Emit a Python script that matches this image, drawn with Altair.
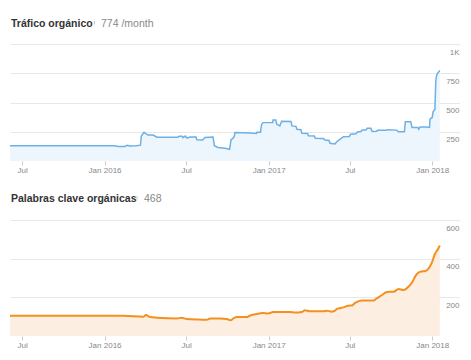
import altair as alt
import pandas as pd

# ---------------- data ----------------
traffic_dates = [
    "2015-06-04", "2016-01-24", "2016-01-31", "2016-02-15", "2016-02-20", "2016-02-27",
    "2016-03-13", "2016-03-21", "2016-03-23", "2016-03-29", "2016-04-02", "2016-04-07",
    "2016-04-18", "2016-04-27", "2016-06-13", "2016-06-15", "2016-06-22", "2016-06-24",
    "2016-06-29", "2016-07-03", "2016-07-10", "2016-07-23", "2016-07-25", "2016-08-07",
    "2016-08-12", "2016-08-30", "2016-09-02", "2016-09-10", "2016-09-26", "2016-10-06",
    "2016-10-09", "2016-10-16", "2016-10-18", "2016-11-20", "2016-12-05", "2016-12-06",
    "2016-12-14", "2016-12-16", "2016-12-19", "2017-01-10", "2017-01-11", "2017-01-17",
    "2017-01-19", "2017-01-26", "2017-01-30", "2017-02-20", "2017-02-22", "2017-03-03",
    "2017-03-05", "2017-03-14", "2017-03-16", "2017-03-29", "2017-03-31", "2017-04-13",
    "2017-04-15", "2017-05-03", "2017-05-07", "2017-05-16", "2017-05-18", "2017-05-29",
    "2017-06-02", "2017-06-09", "2017-06-17", "2017-06-30", "2017-07-03", "2017-07-15",
    "2017-07-18", "2017-07-26", "2017-07-29", "2017-08-06", "2017-08-09", "2017-08-17",
    "2017-08-20", "2017-08-30", "2017-09-01", "2017-09-21", "2017-09-24", "2017-10-14",
    "2017-10-17", "2017-10-31", "2017-11-02", "2017-11-14", "2017-11-17", "2017-11-30",
    "2017-12-02", "2017-12-05", "2017-12-18", "2017-12-26", "2017-12-27", "2018-01-01",
    "2018-01-03", "2018-01-07", "2018-01-09", "2018-01-11", "2018-01-14", "2018-01-18",
]
traffic_values = [
    130, 130, 124, 123, 134, 128,
    131, 135, 214, 245, 235, 222,
    222, 203, 203, 212, 212, 200,
    213, 196, 205, 205, 182, 180,
    200, 205, 130, 115, 108, 100,
    180, 205, 243, 240, 236, 246,
    246, 308, 328, 330, 350, 350,
    316, 300, 339, 338, 300, 296,
    271, 268, 238, 236, 216, 214,
    194, 192, 180, 175, 151, 145,
    165, 185, 208, 210, 228, 232,
    248, 252, 265, 265, 279, 280,
    253, 255, 262, 262, 268, 264,
    251, 250, 336, 336, 287, 286,
    272, 291, 290, 287, 358, 372,
    421, 442, 684, 735, 755, 774,
]

keyword_dates = [
    "2015-06-04", "2016-02-12", "2016-03-28", "2016-04-02", "2016-04-12", "2016-04-27",
    "2016-06-10", "2016-06-21", "2016-07-02", "2016-08-01", "2016-08-16", "2016-08-24",
    "2016-09-15", "2016-09-30", "2016-10-08", "2016-10-15", "2016-10-23", "2016-11-13",
    "2016-11-20", "2016-12-02", "2016-12-20", "2016-12-31", "2017-01-11", "2017-02-18",
    "2017-03-01", "2017-03-16", "2017-03-23", "2017-04-03", "2017-05-03", "2017-05-11",
    "2017-05-22", "2017-05-29", "2017-06-02", "2017-06-17", "2017-06-28", "2017-07-06",
    "2017-07-13", "2017-07-28", "2017-08-23", "2017-08-30", "2017-09-11", "2017-09-22",
    "2017-10-07", "2017-10-18", "2017-10-29", "2017-11-10", "2017-11-18", "2017-11-25",
    "2017-12-02", "2017-12-09", "2017-12-17", "2017-12-24", "2017-12-31", "2018-01-07",
    "2018-01-14", "2018-01-18",
]
keyword_values = [
    105, 105, 100, 108, 98, 95,
    91, 94, 88, 85, 84, 91,
    91, 88, 81, 92, 98, 98,
    105, 112, 119, 117, 124, 124,
    121, 124, 133, 128, 128, 131,
    126, 131, 140, 148, 157, 158,
    171, 184, 184, 195, 212, 228,
    229, 243, 238, 257, 281, 312,
    329, 334, 336, 350, 378, 424,
    450, 468,
]

traffic_title = "Tráfico orgánico"
traffic_value_text = "774 /month"
keyword_title = "Palabras clave orgánicas"
keyword_value_text = "468"

traffic_ticks = [250, 500, 750, 1000]
keyword_ticks = [200, 400, 600]

FONT = "Liberation Sans"

x_tick_values = [
    alt.DateTime(year=2015, month=7, date=1),
    alt.DateTime(year=2016, month=1, date=1),
    alt.DateTime(year=2016, month=7, date=1),
    alt.DateTime(year=2017, month=1, date=1),
    alt.DateTime(year=2017, month=7, date=1),
    alt.DateTime(year=2018, month=1, date=1),
]
x_domain = [alt.DateTime(year=2015, month=6, date=4), alt.DateTime(year=2018, month=3, date=4)]

W = 450


def panel(dates, values, ticks, ymax, h, line_color, fill_color, interp, stroke_w,
          title, value_text, title_y, marker_x, value_x):
    df = pd.DataFrame({"date": dates, "value": values})
    x = alt.X(
        "date:T",
        scale=alt.Scale(domain=x_domain),
        axis=alt.Axis(
            title=None, values=x_tick_values, grid=False, domain=False,
            tickColor="#cccccc", tickSize=4, labelPadding=1,
            labelFontSize=8, labelColor="#888888", labelFont=FONT, labelFlush=False,
            labelExpr="month(datum.value) == 0 ? timeFormat(datum.value, '%b %Y') : timeFormat(datum.value, '%b')",
        ),
    )
    y = alt.Y(
        "value:Q",
        scale=alt.Scale(domain=[0, ymax], nice=False),
        axis=alt.Axis(
            title=None, orient="right", values=ticks, grid=True, gridColor="#e8e8e8",
            domain=False, ticks=False, tickSize=0, labelPadding=-1,
            labelAlign="right", labelBaseline="top", labelOffset=4,
            labelFontSize=8, labelColor="#888888", labelFont=FONT,
            labelExpr="datum.value >= 1000 ? '1K' : datum.label",
        ),
    )
    base = alt.Chart(df)
    area = base.mark_area(color=fill_color, interpolate=interp).encode(x=x, y=y)
    line = base.mark_line(color=line_color, strokeWidth=stroke_w, interpolate=interp).encode(x=x, y=y)

    tdf = pd.DataFrame({"t": [title]})
    ttl = alt.Chart(tdf).mark_text(
        align="left", baseline="middle", font=FONT, fontSize=10.5, fontWeight="bold", color="#333333"
    ).encode(text="t:N", x=alt.value(1), y=alt.value(title_y))
    vdf = pd.DataFrame({"t": [value_text]})
    val = alt.Chart(vdf).mark_text(
        align="left", baseline="middle", font=FONT, fontSize=10.5, color="#888888"
    ).encode(text="t:N", x=alt.value(value_x), y=alt.value(title_y))
    mk = alt.Chart(vdf).mark_rule(color="#c8c8c8", strokeWidth=1).encode(
        x=alt.value(marker_x), y=alt.value(title_y - 3), y2=alt.value(title_y + 0.5)
    )
    return alt.layer(area, line, ttl, mk, val).properties(width=W, height=h)


top = panel(traffic_dates, traffic_values, traffic_ticks, 1000, 117,
            "#6cb0e6", "#eef6fd", "linear", 1.5,
            traffic_title, traffic_value_text, -20, 84.5, 91)
bottom = panel(keyword_dates, keyword_values, keyword_ticks, 600, 116,
               "#f5901f", "#fdeee2", "monotone", 2,
               keyword_title, keyword_value_text, -21, 127, 134)

chart = alt.vconcat(top, bottom, spacing=20).properties(
    padding={"left": -2, "top": 11, "right": 0, "bottom": 0}
).configure(background="white").configure_view(strokeWidth=0)

chart.save("out.html", embed_options={"renderer": "svg", "actions": False})
